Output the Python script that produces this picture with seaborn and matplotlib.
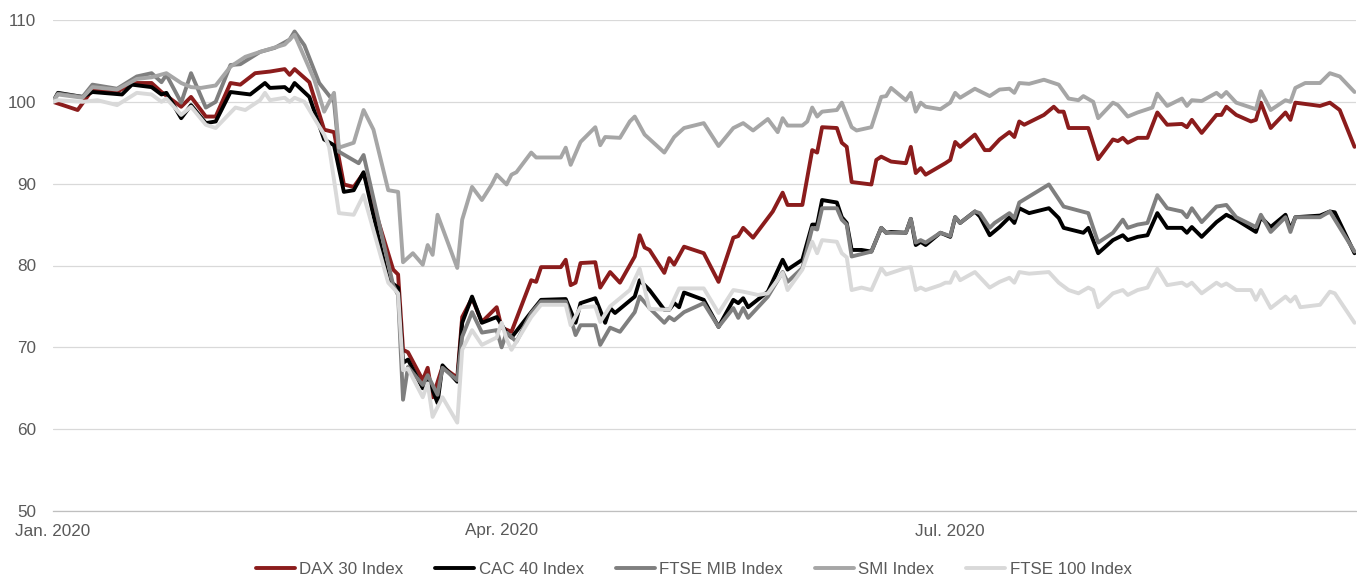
import matplotlib
matplotlib.use("Agg")
import matplotlib.pyplot as plt
import pandas as pd
import seaborn as sns

# Equity indices rebased to 100 at the start of 2020; x values are days since 1 Jan 2020
start = pd.Timestamp("2020-01-01")
index_names = ["DAX 30 Index", "CAC 40 Index", "FTSE MIB Index", "SMI Index", "FTSE 100 Index"]
line_colors = ["#8b1c1c", "#000000", "#7f7f7f", "#a6a6a6", "#d9d9d9"]

dax_day = [0, 5, 8, 13, 16, 20, 22, 26, 28, 31, 33, 36, 38, 41, 44, 47, 48, 49, 52, 55,
           57, 59, 61, 63, 68, 69, 70, 71, 72, 75, 76, 77, 79, 82, 83, 85, 87, 90, 91, 93,
           97, 98, 99, 103, 104, 105, 106, 107, 110, 111, 113, 115, 118, 119, 120, 121, 124, 125, 126, 128,
           132, 135, 138, 139, 140, 142, 146, 148, 149, 152, 154, 155, 156, 159, 160, 161, 162, 166, 167, 168,
           170, 173, 174, 175, 176, 177, 181, 182, 183, 184, 187, 189, 190, 192, 194, 195, 196, 197, 201, 203,
           204, 205, 206, 210, 212, 215, 216, 217, 218, 220, 222, 224, 226, 229, 230, 231, 233, 236, 237, 238,
           240, 243, 244, 245, 247, 250, 251, 252, 257, 259, 261, 264]
dax_val = [100.0, 99.0, 101.5, 101.2, 102.3, 102.3, 101.2, 99.4, 100.6, 98.2,
           98.2, 102.3, 102.1, 103.5, 103.7, 104.0, 103.3, 104.0, 102.4, 96.6,
           96.3, 89.9, 89.6, 91.3, 81.5, 79.5, 78.9, 69.7, 69.4, 66.0,
           67.5, 63.9, 67.6, 66.3, 73.7, 76.0, 73.1, 74.9, 72.4, 71.9,
           78.2, 78.0, 79.8, 79.8, 80.7, 77.6, 77.9, 80.3, 80.4, 77.3,
           79.2, 77.9, 81.1, 83.7, 82.2, 81.9, 79.1, 80.9, 80.1, 82.3,
           81.5, 78.0, 83.4, 83.6, 84.6, 83.4, 86.6, 88.9, 87.4, 87.4,
           94.1, 93.8, 96.9, 96.8, 95.0, 94.5, 90.2, 89.9, 92.9, 93.3,
           92.7, 92.5, 94.5, 91.3, 91.9, 91.1, 92.5, 92.9, 95.1, 94.5,
           96.0, 94.1, 94.1, 95.4, 96.3, 95.7, 97.6, 97.2, 98.4, 99.4,
           98.8, 98.8, 96.8, 96.8, 93.0, 95.4, 95.2, 95.6, 95.0, 95.6,
           95.6, 98.7, 97.2, 97.3, 96.9, 97.8, 96.2, 98.4, 98.4, 99.4,
           98.4, 97.6, 97.8, 99.9, 96.8, 98.7, 97.8, 99.9, 99.5, 99.9,
           99.0, 94.5]

cac_day = [0, 1, 6, 8, 14, 16, 20, 22, 23, 26, 28, 31, 33, 36, 40, 43, 44, 47, 48, 49,
           52, 55, 57, 59, 61, 63, 68, 70, 71, 72, 75, 76, 78, 79, 82, 83, 85, 87, 90, 92,
           93, 97, 99, 104, 106, 107, 110, 112, 113, 114, 118, 119, 121, 124, 125, 126, 127, 128, 132, 135,
           138, 139, 140, 141, 145, 148, 149, 152, 154, 155, 156, 159, 160, 161, 162, 164, 166, 168, 169, 170,
           173, 174, 175, 176, 177, 180, 182, 183, 184, 187, 188, 190, 192, 194, 195, 196, 198, 202, 204, 205,
           209, 210, 212, 215, 217, 218, 220, 222, 224, 226, 229, 230, 231, 233, 236, 238, 240, 244, 245, 247,
           250, 251, 252, 257, 259, 260, 264]
cac_val = [100.0, 101.1, 100.6, 101.2, 100.9, 102.1, 101.8, 100.9, 101.1, 98.0,
           99.6, 97.4, 97.6, 101.2, 100.9, 102.3, 101.7, 101.8, 101.3, 102.3,
           100.6, 95.4, 94.7, 89.0, 89.2, 91.4, 78.2, 77.3, 68.1, 68.5,
           65.0, 66.4, 63.2, 67.8, 65.8, 73.0, 76.2, 73.0, 73.7, 71.8,
           71.2, 74.3, 75.8, 75.9, 73.0, 75.4, 76.0, 73.0, 74.8, 74.2,
           76.2, 78.2, 77.0, 74.6, 74.6, 75.4, 74.9, 76.7, 75.8, 72.5,
           75.8, 75.4, 76.0, 74.9, 76.8, 80.7, 79.5, 80.7, 85.0, 85.0,
           88.0, 87.7, 85.9, 85.2, 81.9, 81.9, 81.7, 84.6, 84.0, 84.1,
           84.0, 85.7, 82.5, 82.9, 82.5, 84.0, 83.5, 85.9, 85.2, 86.6,
           86.0, 83.7, 84.7, 85.9, 85.2, 87.0, 86.4, 87.0, 85.8, 84.6,
           84.0, 84.6, 81.5, 83.1, 83.7, 83.1, 83.5, 83.7, 86.4, 84.6,
           84.6, 84.0, 84.7, 83.5, 85.3, 86.2, 85.6, 84.1, 85.9, 84.7,
           86.2, 84.4, 85.9, 86.1, 86.6, 86.5, 81.5]

mib_day = [0, 1, 6, 8, 13, 17, 20, 22, 23, 26, 28, 31, 33, 36, 38, 42, 45, 48, 49, 51,
           54, 57, 58, 62, 63, 69, 70, 71, 72, 75, 76, 78, 79, 82, 83, 85, 87, 90, 91, 92,
           94, 97, 99, 104, 106, 107, 110, 111, 113, 115, 118, 119, 121, 124, 125, 126, 128, 132, 135, 138,
           139, 140, 141, 145, 148, 149, 152, 154, 155, 156, 159, 160, 161, 162, 166, 168, 169, 173, 174, 175,
           176, 177, 180, 182, 183, 184, 187, 188, 190, 191, 194, 195, 196, 202, 205, 210, 212, 215, 217, 218,
           220, 222, 224, 226, 229, 230, 231, 233, 236, 238, 240, 244, 245, 247, 250, 251, 252, 257, 259, 264]
mib_val = [100.0, 101.0, 100.6, 102.1, 101.6, 103.1, 103.5, 102.4, 103.3, 99.9,
           103.5, 99.3, 100.0, 104.5, 104.6, 106.1, 106.6, 107.6, 108.6, 106.9,
           102.3, 100.0, 93.9, 92.5, 93.5, 77.6, 76.4, 63.6, 67.6, 65.4,
           66.6, 64.2, 67.5, 66.0, 71.3, 74.3, 71.8, 72.1, 70.0, 71.8,
           70.7, 74.2, 75.6, 75.6, 71.5, 72.7, 72.7, 70.3, 72.4, 71.9,
           74.3, 76.2, 74.8, 73.0, 73.7, 73.3, 74.3, 75.4, 72.5, 74.8,
           73.6, 74.8, 73.6, 76.2, 79.2, 78.0, 79.7, 84.6, 84.4, 87.0,
           87.0, 85.6, 85.0, 81.1, 81.7, 84.6, 84.0, 84.0, 85.7, 82.8,
           83.1, 82.8, 84.0, 83.6, 85.9, 85.2, 86.6, 86.4, 84.6, 85.2,
           86.4, 85.8, 87.7, 89.9, 87.2, 86.4, 82.8, 84.0, 85.6, 84.6,
           85.0, 85.2, 88.6, 87.0, 86.6, 85.9, 87.0, 85.3, 87.2, 87.4,
           85.9, 84.7, 86.2, 84.1, 85.9, 84.1, 85.9, 85.9, 86.6, 81.7]

smi_day = [0, 1, 6, 8, 13, 17, 20, 23, 26, 28, 30, 33, 36, 39, 42, 47, 49, 53, 55, 57,
           58, 61, 63, 65, 68, 70, 71, 73, 75, 76, 77, 78, 82, 83, 85, 87, 89, 90, 92, 93,
           94, 97, 98, 103, 104, 105, 107, 110, 111, 112, 115, 116, 117, 118, 120, 124, 126, 128, 132, 135,
           138, 140, 142, 145, 147, 148, 149, 152, 153, 154, 155, 156, 159, 160, 162, 163, 166, 168, 169, 170,
           173, 174, 175, 176, 177, 180, 182, 183, 184, 187, 190, 192, 194, 195, 196, 198, 201, 204, 206, 208,
           209, 211, 212, 215, 216, 218, 220, 223, 224, 226, 229, 230, 231, 233, 236, 237, 238, 240, 244, 245,
           247, 250, 251, 252, 254, 257, 259, 261, 264]
smi_val = [100.0, 100.9, 100.5, 101.8, 101.5, 102.8, 103.0, 103.5, 102.3, 101.8,
           101.7, 102.0, 104.3, 105.5, 106.1, 107.0, 108.2, 102.7, 98.8, 101.1,
           94.4, 95.0, 99.0, 96.6, 89.2, 89.0, 80.4, 81.5, 80.1, 82.5,
           81.3, 86.2, 79.7, 85.6, 89.6, 88.0, 89.9, 91.1, 89.9, 91.1,
           91.4, 93.8, 93.2, 93.2, 94.4, 92.3, 95.1, 96.9, 94.7, 95.7,
           95.6, 96.6, 97.6, 98.2, 96.0, 93.8, 95.7, 96.8, 97.4, 94.6,
           96.8, 97.4, 96.5, 97.9, 96.3, 98.0, 97.1, 97.1, 97.6, 99.3,
           98.2, 98.8, 99.0, 99.9, 96.9, 96.5, 96.9, 100.6, 100.7, 101.7,
           100.2, 101.1, 98.8, 99.9, 99.4, 99.1, 99.9, 101.1, 100.5, 101.6,
           100.7, 101.5, 101.6, 101.1, 102.3, 102.2, 102.7, 102.1, 100.4, 100.2,
           100.7, 100.0, 98.0, 99.9, 99.6, 98.2, 98.7, 99.3, 101.0, 99.5,
           100.4, 99.5, 100.2, 100.1, 101.1, 100.6, 101.2, 99.9, 99.1, 101.3,
           99.0, 100.2, 100.0, 101.7, 102.3, 102.3, 103.5, 103.1, 101.2]

ftse_day = [0, 1, 6, 9, 13, 17, 20, 22, 23, 26, 28, 31, 33, 37, 39, 42, 43, 44, 47, 48,
            49, 51, 55, 56, 58, 61, 63, 68, 70, 71, 72, 75, 76, 77, 79, 82, 83, 85, 87, 90,
            91, 92, 93, 97, 99, 104, 105, 107, 110, 111, 113, 117, 119, 121, 124, 125, 127, 132, 135, 138,
            140, 143, 145, 148, 149, 152, 154, 155, 156, 159, 160, 161, 162, 164, 166, 168, 169, 173, 174, 175,
            176, 177, 180, 181, 182, 183, 184, 187, 190, 192, 194, 195, 196, 198, 202, 204, 206, 208, 210, 211,
            212, 215, 217, 218, 220, 222, 224, 226, 229, 230, 231, 233, 236, 237, 238, 240, 243, 244, 245, 247,
            250, 251, 252, 253, 257, 259, 260, 264]
ftse_val = [100.0, 100.2, 100.0, 100.2, 99.6, 101.1, 100.9, 100.0, 100.4, 98.4,
            99.4, 97.2, 96.8, 99.3, 99.0, 100.2, 101.1, 100.2, 100.5, 100.0,
            100.5, 100.0, 96.0, 94.5, 86.4, 86.2, 88.6, 77.9, 76.6, 67.2,
            67.4, 63.9, 65.6, 61.5, 63.9, 60.8, 69.7, 72.1, 70.3, 71.2,
            73.0, 71.0, 69.7, 73.7, 75.2, 75.2, 72.7, 74.9, 75.0, 73.1,
            75.0, 77.0, 79.6, 74.7, 74.6, 74.6, 77.2, 77.2, 74.2, 77.0,
            76.8, 76.4, 76.6, 79.1, 77.0, 79.5, 82.9, 81.5, 83.1, 82.9,
            81.5, 81.0, 77.0, 77.3, 77.0, 79.7, 78.9, 79.7, 79.8, 77.0,
            77.3, 77.0, 77.6, 77.9, 77.9, 79.2, 78.2, 79.2, 77.3, 78.0,
            78.5, 77.9, 79.2, 79.0, 79.2, 77.9, 77.0, 76.6, 77.3, 77.0,
            74.9, 76.6, 77.0, 76.4, 77.0, 77.3, 79.6, 77.6, 77.9, 77.5,
            77.9, 76.6, 77.9, 77.5, 77.8, 77.0, 77.0, 75.8, 77.0, 74.8,
            76.2, 75.6, 76.2, 74.9, 75.2, 76.8, 76.6, 73.0]

tick_dates = ["2020-01-01", "2020-04-01", "2020-07-01"]
tick_labels = ["Jan. 2020", "Apr. 2020", "Jul. 2020"]

series = [(dax_day, dax_val), (cac_day, cac_val), (mib_day, mib_val),
          (smi_day, smi_val), (ftse_day, ftse_val)]
frames = []
for name, (days, vals) in zip(index_names, series):
    frames.append(pd.DataFrame({
        "date": start + pd.to_timedelta(days, unit="D"),
        "value": vals,
        "index": name,
    }))
df = pd.concat(frames, ignore_index=True)

sns.set_style("white")
plt.rcParams["font.family"] = ["Liberation Sans", "DejaVu Sans"]
text_color = "#595959"

fig = plt.figure(figsize=(13.57, 5.76), dpi=100)
ax = fig.add_axes([53 / 1357, 1 - 511 / 576, (1356 - 53) / 1357, (511 - 20) / 576])

sns.lineplot(data=df, x="date", y="value", hue="index", hue_order=index_names,
             palette=line_colors, estimator=None, linewidth=2.8, ax=ax)

ax.set_xlim(start, start + pd.Timedelta(days=264.3))
ax.set_ylim(50, 110)
ax.set_yticks(range(50, 111, 10))
ax.set_xticks(pd.to_datetime(tick_dates))
ax.set_xticklabels(tick_labels)
ax.set_xlabel("")
ax.set_ylabel("")

ax.grid(axis="y", color="#d9d9d9", linewidth=0.9)
ax.grid(axis="x", visible=False)
ax.set_axisbelow(True)
for side in ["top", "right", "left"]:
    ax.spines[side].set_visible(False)
ax.spines["bottom"].set_color("#bfbfbf")
ax.spines["bottom"].set_linewidth(0.9)

ax.tick_params(axis="y", length=0, pad=12, labelsize=12.3, labelcolor=text_color)
ax.tick_params(axis="x", length=5, width=0.9, color="#bfbfbf", pad=4,
               labelsize=12.3, labelcolor=text_color, direction="out")

sns.move_legend(ax, "center", bbox_to_anchor=(0.4917, -0.119), ncol=5,
                frameon=False, title=None, fontsize=12.2, handlelength=2.3,
                handletextpad=0.25, columnspacing=1.9, borderpad=0.2)
for txt in ax.get_legend().get_texts():
    txt.set_color(text_color)

fig.savefig("out.png", dpi=100)
